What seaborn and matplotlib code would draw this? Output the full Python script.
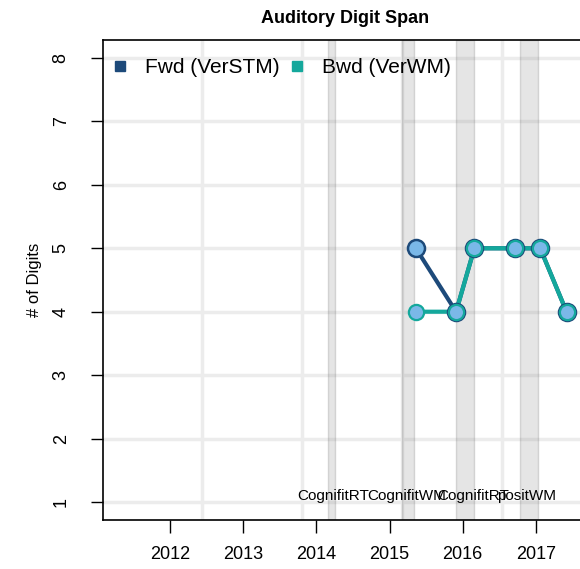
import numpy as np
import pandas as pd
import matplotlib
matplotlib.use("Agg")
import matplotlib.pyplot as plt
from matplotlib.lines import Line2D
import seaborn as sns

# session dates (decimal years) and digit span scores
dates = [2015.36, 2015.91, 2016.16, 2016.72, 2017.06, 2017.42]
fwd_span = [5, 4, 5, 5, 5, 4]
bwd_span = [4, 4, 5, 5, 5, 4]

# training blocks (shaded) and their labels
band_start = [2014.16, 2015.17, 2015.91, 2016.79]
band_end = [2014.25, 2015.33, 2016.16, 2017.03]
band_labels = ["CognifitRT", "CognifitWM", "CognifitRT", "positWM"]
label_x = [2014.23, 2015.23, 2016.145, 2016.87]

vgrid = [2012.43, 2013.80, 2015.17, 2016.54]
year_ticks = [2012, 2013, 2014, 2015, 2016, 2017]
digit_ticks = [1, 2, 3, 4, 5, 6, 7, 8]

FWD_COL = "#1d4a7a"
BWD_COL = "#14a89c"
FILL_COL = "#7ab8e8"

sns.set_style("white")
plt.rcParams["font.family"] = ["Liberation Sans", "DejaVu Sans"]
plt.rcParams["text.color"] = "black"
plt.rcParams["axes.labelcolor"] = "black"
plt.rcParams["xtick.color"] = "black"
plt.rcParams["ytick.color"] = "black"

df = pd.DataFrame({"date": dates, "fwd": fwd_span, "bwd": bwd_span})

fig = plt.figure(figsize=(5.8, 5.69), dpi=100)
ax = fig.add_axes([103 / 580, 49 / 569, 484 / 580, 480 / 569])

# grid
for y in digit_ticks:
    ax.axhline(y, color="#ececec", lw=2.5, zorder=0)
for x in vgrid:
    ax.axvline(x, color="#ececec", lw=2.5, zorder=0)

# shaded training blocks
for s, e in zip(band_start, band_end):
    ax.axvspan(s, e, facecolor=(0.5, 0.5, 0.5, 0.2),
               edgecolor=(0.45, 0.45, 0.45, 0.25), lw=1, zorder=1)
for x, lab in zip(label_x, band_labels):
    ax.text(x, 1.03, lab, ha="center", va="baseline", fontsize=11, zorder=2)

# lines
sns.lineplot(data=df, x="date", y="fwd", color=FWD_COL, lw=3, ax=ax, zorder=3)
sns.lineplot(data=df, x="date", y="bwd", color=BWD_COL, lw=3, ax=ax, zorder=3)

# points
sns.scatterplot(data=df, x="date", y="fwd", s=150, color=FILL_COL,
                edgecolor=FWD_COL, linewidth=1.8, ax=ax, zorder=4)
sns.scatterplot(data=df, x="date", y="bwd", s=120, color=FILL_COL,
                edgecolor=BWD_COL, linewidth=1.6, ax=ax, zorder=5)

ax.set_xlim(2011.083, 2017.70)
ax.set_ylim(0.716, 8.284)
ax.set_xticks(year_ticks)
ax.set_xticklabels([str(y) for y in year_ticks])
ax.set_yticks(digit_ticks)
ax.set_yticklabels([str(d) for d in digit_ticks], rotation=90, va="center")
ax.tick_params(axis="x", direction="out", length=9, width=1, pad=10,
               labelsize=13, bottom=True)
ax.tick_params(axis="y", direction="out", length=9, width=1, pad=15,
               labelsize=13, left=True)

for sp in ax.spines.values():
    sp.set_color("black")
    sp.set_linewidth(1.2)

ax.set_xlabel("")
ax.set_ylabel("# of Digits", fontsize=12, va="center")
ax.yaxis.set_label_coords(-(103 - 34) / 484, 0.5)
ax.set_title("Auditory Digit Span", fontsize=13, fontweight="bold", pad=12)

handles = [
    Line2D([], [], marker="s", ls="", color=FWD_COL, markersize=7),
    Line2D([], [], marker="s", ls="", color=BWD_COL, markersize=7),
]
ax.legend(handles, ["Fwd (VerSTM)", "Bwd (VerWM)"], loc="upper left",
          bbox_to_anchor=(0.0, 1.0 - 10 / 480), ncol=2, frameon=False,
          fontsize=15, handlelength=0.8, handletextpad=0.8,
          columnspacing=0.45, borderaxespad=0.0)

fig.savefig("out.png", dpi=100)
